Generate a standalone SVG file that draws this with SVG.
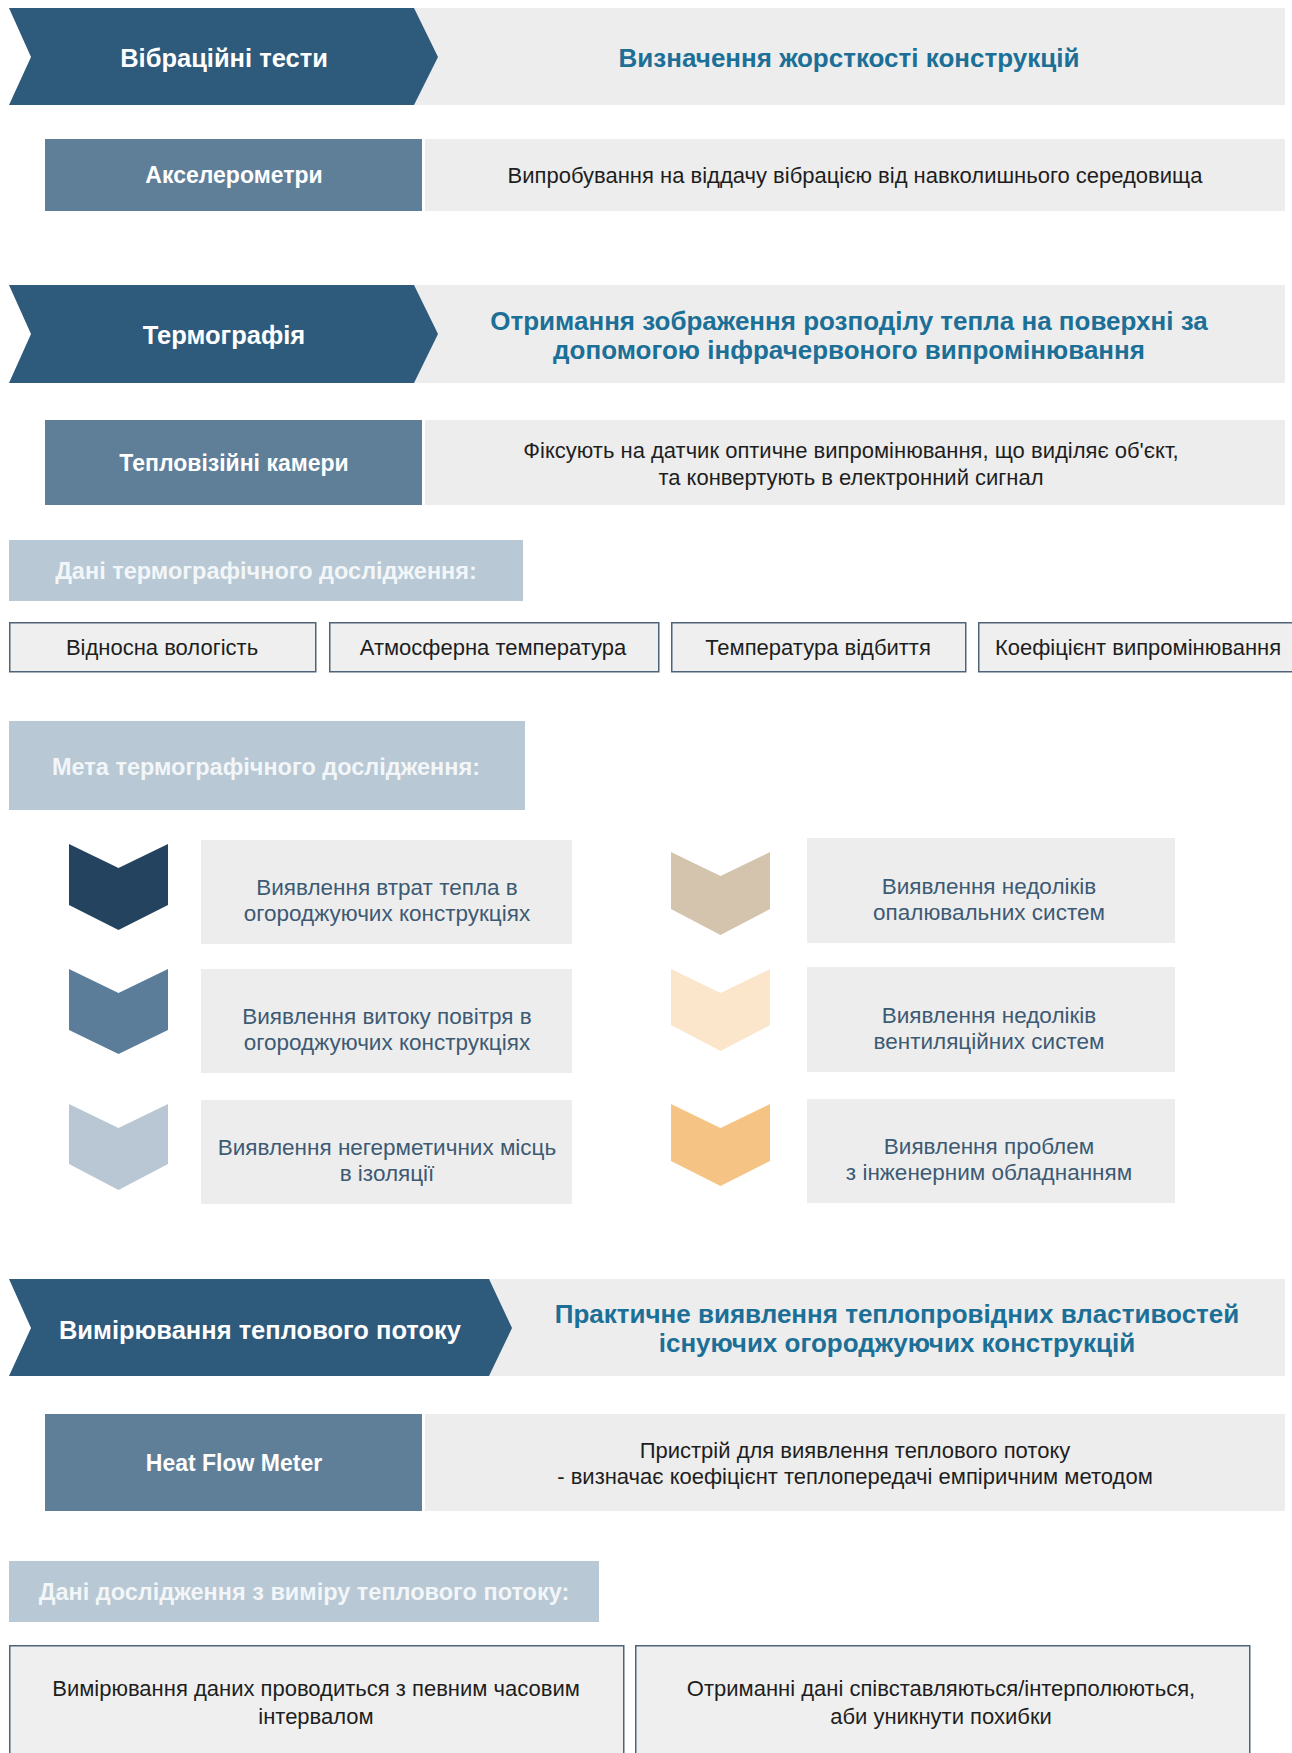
<svg xmlns="http://www.w3.org/2000/svg" width="1292" height="1753" viewBox="0 0 1292 1753">
<style>
text{font-family:"Liberation Sans",Arial,sans-serif;text-anchor:middle;dominant-baseline:central}
.banner{fill:#2e5a7b}
.grey{fill:#ededed}
.mid{fill:#5f7f99}
.hdr{fill:#b8c8d4}
.t-ban{fill:#ffffff;font-weight:bold;font-size:25.5px}
.t-teal{fill:#1c6f96;font-weight:bold;font-size:26px}
.t-mid{fill:#ffffff;font-weight:bold;font-size:23px}
.t-body{fill:#1e1e1e;font-size:22px}
.t-hdr{fill:#f3f6f8;font-weight:bold;font-size:23.5px}
.pill{fill:#efefef;stroke:#4f6479;stroke-width:1.5}
.t-chev{fill:#3d5a73;font-size:22.5px}
</style>
<rect width="1292" height="1753" fill="#ffffff"/>

<g id="vibration">
<rect class="grey" x="414" y="8" width="871" height="97"/>
<path class="banner" d="M9,8 L414,8 L438,57 L414,105 L9,105 L31,57 Z"/>
<text class="t-ban" x="224" y="58">Вібраційні тести</text>
<text class="t-teal" x="849" y="58">Визначення жорсткості конструкцій</text>
</g>

<g id="accelerometers">
<rect class="mid" x="45" y="139" width="377" height="72"/>
<rect class="grey" x="425" y="139" width="860" height="72"/>
<text class="t-mid" x="234" y="175">Акселерометри</text>
<text class="t-body" x="855" y="175">Випробування на віддачу вібрацією від навколишнього середовища</text>
</g>

<g id="thermography">
<rect class="grey" x="414" y="285" width="871" height="98"/>
<path class="banner" d="M9,285 L414,285 L438,334 L414,383 L9,383 L31,334 Z"/>
<text class="t-ban" x="224" y="335">Термографія</text>
<text class="t-teal" x="849" y="321">Отримання зображення розподілу тепла на поверхні за</text>
<text class="t-teal" x="849" y="350">допомогою інфрачервоного випромінювання</text>
</g>

<g id="thermal-cameras">
<rect class="mid" x="45" y="420" width="377" height="85"/>
<rect class="grey" x="425" y="420" width="860" height="85"/>
<text class="t-mid" x="234" y="463">Тепловізійні камери</text>
<text class="t-body" x="851" y="450">Фіксують на датчик оптичне випромінювання, що виділяє об'єкт,</text>
<text class="t-body" x="851" y="477">та конвертують в електронний сигнал</text>
</g>

<g id="thermo-data-header">
<rect class="hdr" x="9" y="540" width="514" height="61"/>
<text class="t-hdr" x="266" y="571">Дані термографічного дослідження:</text>
</g>

<g id="humidity">
<rect class="pill" x="9.75" y="622.75" width="306" height="49"/>
<text class="t-body" x="162" y="647">Відносна вологість</text>
</g>
<g id="atm-temp">
<rect class="pill" x="329.75" y="622.75" width="329" height="49"/>
<text class="t-body" x="493" y="647">Атмосферна температура</text>
</g>
<g id="refl-temp">
<rect class="pill" x="671.75" y="622.75" width="294" height="49"/>
<text class="t-body" x="818" y="647">Температура відбиття</text>
</g>
<g id="emissivity">
<rect class="pill" x="978.75" y="622.75" width="320" height="49"/>
<text class="t-body" x="1138" y="647">Коефіцієнт випромінювання</text>
</g>

<g id="thermo-goal-header">
<rect class="hdr" x="9" y="721" width="516" height="89"/>
<text class="t-hdr" x="266" y="767">Мета термографічного дослідження:</text>
</g>

<g id="goal-heat-loss">
<path fill="#23435e" d="M69,844 L118.5,868 L168,844 L168,905 L118.5,930 L69,905 Z"/>
<rect class="grey" x="201" y="840" width="371" height="104"/>
<text class="t-chev" x="387" y="887">Виявлення втрат тепла в</text>
<text class="t-chev" x="387" y="913">огороджуючих конструкціях</text>
</g>

<g id="goal-air-leak">
<path fill="#5b7d99" d="M69,969 L118.5,993 L168,969 L168,1030 L118.5,1054 L69,1030 Z"/>
<rect class="grey" x="201" y="969" width="371" height="104"/>
<text class="t-chev" x="387" y="1016">Виявлення витоку повітря в</text>
<text class="t-chev" x="387" y="1042">огороджуючих конструкціях</text>
</g>

<g id="goal-insulation">
<path fill="#b8c7d3" d="M69,1104 L118.5,1128 L168,1104 L168,1164 L118.5,1190 L69,1164 Z"/>
<rect class="grey" x="201" y="1100" width="371" height="104"/>
<text class="t-chev" x="387" y="1147">Виявлення негерметичних місць</text>
<text class="t-chev" x="387" y="1173">в ізоляції</text>
</g>

<g id="goal-heating">
<path fill="#d4c4ae" d="M671,852 L720.5,876 L770,852 L770,909 L720.5,935 L671,909 Z"/>
<rect class="grey" x="807" y="838" width="368" height="105"/>
<text class="t-chev" x="989" y="886">Виявлення недоліків</text>
<text class="t-chev" x="989" y="912">опалювальних систем</text>
</g>

<g id="goal-ventilation">
<path fill="#fbe5cb" d="M671,969 L720.5,993 L770,969 L770,1025 L720.5,1051 L671,1025 Z"/>
<rect class="grey" x="807" y="967" width="368" height="105"/>
<text class="t-chev" x="989" y="1015">Виявлення недоліків</text>
<text class="t-chev" x="989" y="1041">вентиляційних систем</text>
</g>

<g id="goal-engineering">
<path fill="#f5c485" d="M671,1104 L720.5,1128 L770,1104 L770,1161 L720.5,1186 L671,1161 Z"/>
<rect class="grey" x="807" y="1099" width="368" height="104"/>
<text class="t-chev" x="989" y="1146">Виявлення проблем</text>
<text class="t-chev" x="989" y="1172">з інженерним обладнанням</text>
</g>

<g id="heat-flow">
<rect class="grey" x="489" y="1279" width="796" height="97"/>
<path class="banner" d="M9,1279 L489,1279 L512,1328 L489,1376 L9,1376 L31,1328 Z"/>
<text class="t-ban" x="260" y="1330">Вимірювання теплового потоку</text>
<text class="t-teal" x="897" y="1314">Практичне виявлення теплопровідних властивостей</text>
<text class="t-teal" x="897" y="1343">існуючих огороджуючих конструкцій</text>
</g>

<g id="heat-flow-meter">
<rect class="mid" x="45" y="1414" width="377" height="97"/>
<rect class="grey" x="425" y="1414" width="860" height="97"/>
<text class="t-mid" x="234" y="1463">Heat Flow Meter</text>
<text class="t-body" x="855" y="1450">Пристрій для виявлення теплового потоку</text>
<text class="t-body" x="855" y="1476">- визначає коефіцієнт теплопередачі емпіричним методом</text>
</g>

<g id="flow-data-header">
<rect class="hdr" x="9" y="1561" width="590" height="61"/>
<text class="t-hdr" x="304" y="1592">Дані дослідження з виміру теплового потоку:</text>
</g>

<g id="interval">
<rect class="pill" x="9.75" y="1645.75" width="614" height="120"/>
<text class="t-body" x="316" y="1688">Вимірювання даних проводиться з певним часовим</text>
<text class="t-body" x="316" y="1716">інтервалом</text>
</g>
<g id="interpolation">
<rect class="pill" x="635.75" y="1645.75" width="614" height="120"/>
<text class="t-body" x="941" y="1688">Отриманні дані співставляються/інтерполюються,</text>
<text class="t-body" x="941" y="1716">аби уникнути похибки</text>
</g>

<g id="connectors"></g>
</svg>
